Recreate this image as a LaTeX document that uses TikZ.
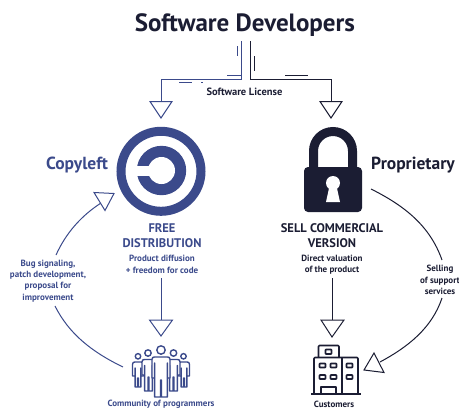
\documentclass[tikz,border=0pt]{standalone}
\usepackage{fontspec}
\setmainfont{PT Sans}
\definecolor{cblue}{HTML}{3B4A8B}
\definecolor{cdark}{HTML}{1B1D33}
\tikzset{x=1pt,y=-1pt,
  blueln/.style={draw=cblue,line width=1pt},
  darkln/.style={draw=cdark,line width=1pt},
  bluehead/.style={draw=cblue,line width=1pt,fill=white,line join=miter},
  darkhead/.style={draw=cdark,line width=1pt,fill=white,line join=miter},
  title/.style={font=\fontsize{25}{25}\selectfont\bfseries,text=cdark,inner sep=0pt},
  side/.style={font=\fontsize{17.5}{17.5}\selectfont\bfseries,inner sep=0pt},
  head/.style={font=\fontsize{12.5}{15}\selectfont\bfseries,align=center,inner sep=0pt},
  small/.style={font=\fontsize{9}{11.3}\selectfont\bfseries,align=center,inner sep=0pt},
}
\newcommand{\personfig}[5]{% centre x, shoulder y, half width, bottom y, arm end y
  \draw[cblue,line width=1.4pt,fill=white,line join=round]
    (#1-#3,#5) -- (#1-#3,#2+2.5) .. controls (#1-#3,#2+.5) and (#1-#3+1,#2) .. (#1-#3+2.5,#2)
    -- (#1+#3-2.5,#2) .. controls (#1+#3-1,#2) and (#1+#3,#2+.5) .. (#1+#3,#2+2.5)
    -- (#1+#3,#5) -- (#1+#3-2.6,#5) -- (#1+#3-2.6,#2+6) -- (#1+#3-2.6,#4)
    -- (#1+.4,#4) -- (#1+.4,#5+2) -- (#1-.4,#5+2) -- (#1-.4,#4)
    -- (#1-#3+2.6,#4) -- (#1-#3+2.6,#2+6) -- (#1-#3+2.6,#5) -- cycle;
}
\begin{document}
\begin{tikzpicture}
\useasboundingbox (0,0) rectangle (459,410);
\begin{scope}
\clip (0,0) rectangle (459,410);
% titles
\node[title] (devs) at (245,25.5) {Software Developers};
\node[font=\fontsize{10.5}{10.5}\selectfont\bfseries,text=cdark,inner sep=0pt] (lic) at (244.5,92) {Software License};
\node[side,text=cblue] (cl) at (77,165) {Copyleft};
\node[side,text=cdark] (pr) at (413,165) {Proprietary};

% copyleft symbol
\coordinate (cc) at (161,171.3);
\draw[cblue,line width=9pt] (cc) circle (40);
\fill[cblue] (161.5,170.5) circle (24.7);
\fill[white] (161.5,170.5) circle (13.5);
\fill[white] (133,165.7) rectangle (158,175.7);
\coordinate (clogo) at (161,216);

\node[head,text=cblue] (free) at (162,236) {FREE\\DISTRIBUTION};
\node[small,text=cblue] (fd) at (162,264.5) {Product diffusion\\+ freedom for code};
\node[small,text=cblue] (bug) at (48,281) {Bug signaling,\\patch development,\\proposal for\\improvement};
\node[small,text=cblue] (comm) at (161,404.5) {Community of programmers};

% lock
\draw[cdark,line width=9pt] (313.5,170) -- (313.5,151) arc[start angle=180,end angle=360,radius=19.5] -- (352.5,170);
\fill[cdark,rounded corners=4pt] (304,167) rectangle (362,212);
\fill[white] (333,183) circle (7);
\fill[white] (329.5,186) -- (336.5,186) -- (340,202) -- (326,202) -- cycle;

\node[head,text=cdark] (sell) at (332,236) {SELL COMMERCIAL\\VERSION};
\node[small,text=cdark] (dv) at (332,264.5) {Direct valuation\\of the product};
\node[small,text=cdark] (sup) at (440,280) {Selling\\of support\\services};
\node[small,text=cdark] (cust) at (334,404.5) {Customers};

% connector anchors
\coordinate (bl0) at (241,41); \coordinate (bl1) at (241,79); \coordinate (bl2) at (161,79); \coordinate (bl3) at (161,102);
\coordinate (dk0) at (250,41); \coordinate (dk1) at (250,79); \coordinate (dk2) at (331,79); \coordinate (dk3) at (331,102);
\draw[blueln] (bl0) -- (bl1) -- (bl2) -- (bl3);
\draw[darkln] (dk0) -- (dk1) -- (dk2) -- (dk3);
% stray strokes
\draw[blueln] (237,46) -- (237,56);
\draw[blueln] (227,75) -- (241,75);
\draw[blueln] (179,82) -- (192,82);
\draw[blueln] (201,82) -- (203,82);
\draw[darkln] (254,56) -- (254,71);
\draw[darkln] (285,75) -- (308,75);

% hollow heads
\draw[bluehead] (150,101.5) -- (172,101.5) -- (161,118) -- cycle;
\draw[darkhead] (320,101.5) -- (342,101.5) -- (331,118) -- cycle;

\coordinate (b1) at (161,278); \coordinate (b2) at (161,320);
\draw[blueln] (b1) -- (b2);
\draw[bluehead] (149.5,320) -- (172.5,320) -- (161,336) -- cycle;
\coordinate (d1) at (332,278); \coordinate (d2) at (332,320);
\draw[darkln] (d1) -- (d2);
\draw[darkhead] (321,320) -- (344,320) -- (332,337) -- cycle;

% arcs
\coordinate (a1) at (56,255); \coordinate (a2) at (101,203);
\draw[blueln] (a1) .. controls (66,233) and (81,216) .. (a2);
\draw[bluehead] (94,192.5) -- (114,193.5) -- (105,210.5) -- cycle;
\coordinate (a3) at (123,367); \coordinate (a4) at (55,306);
\draw[blueln] (a3) .. controls (92,352) and (69,334) .. (a4);
\coordinate (r1) at (371,189); \coordinate (r2) at (442,260);
\draw[darkln] (r1) .. controls (405,206) and (430,226) .. (r2);
\coordinate (r3) at (442,298); \coordinate (r4) at (380,362);
\draw[darkln] (r3) .. controls (432,328) and (408,347) .. (r4);
\draw[darkhead] (374,353) -- (364,370) -- (384,372.5) -- cycle;

% people
\draw[cblue,line width=1.4pt] (161,350) circle (4.2) (148,353) circle (3.2) (173.5,353) circle (3.2) (138,356.3) circle (2.7) (183.5,356.3) circle (2.7);
\personfig{138}{362}{5.5}{387}{376}
\personfig{184}{362}{5.5}{387}{376}
\personfig{148.5}{359.5}{6.5}{391}{375}
\personfig{173.5}{359.5}{6.5}{391}{375}
\personfig{161}{357}{9}{397}{378}

% building
\begin{scope}[cdark,line width=1.6pt,line join=round]
\draw (311,394) -- (361,394);
\draw[rounded corners=1pt] (314,394) -- (314,357.5) -- (358,357.5) -- (358,394);
\draw (342,357.5) -- (342,394);
\draw[rounded corners=1pt] (318.5,357.5) -- (318.5,345.5) -- (339,345.5) -- (339,357.5);
\draw[rounded corners=.5pt] (325.5,349.5) rectangle (331.5,354);
\foreach \xa/\ya in {319.5/363.5,330.5/363.5,346.5/363.5,319.5/375,330.5/375,346.5/375}
  \draw[rounded corners=.5pt] (\xa,\ya) rectangle (\xa+6,\ya+4);
\draw (321,394) -- (321,387) -- (336,387) -- (336,394);
\end{scope}
\end{scope}
\end{tikzpicture}
\end{document}
